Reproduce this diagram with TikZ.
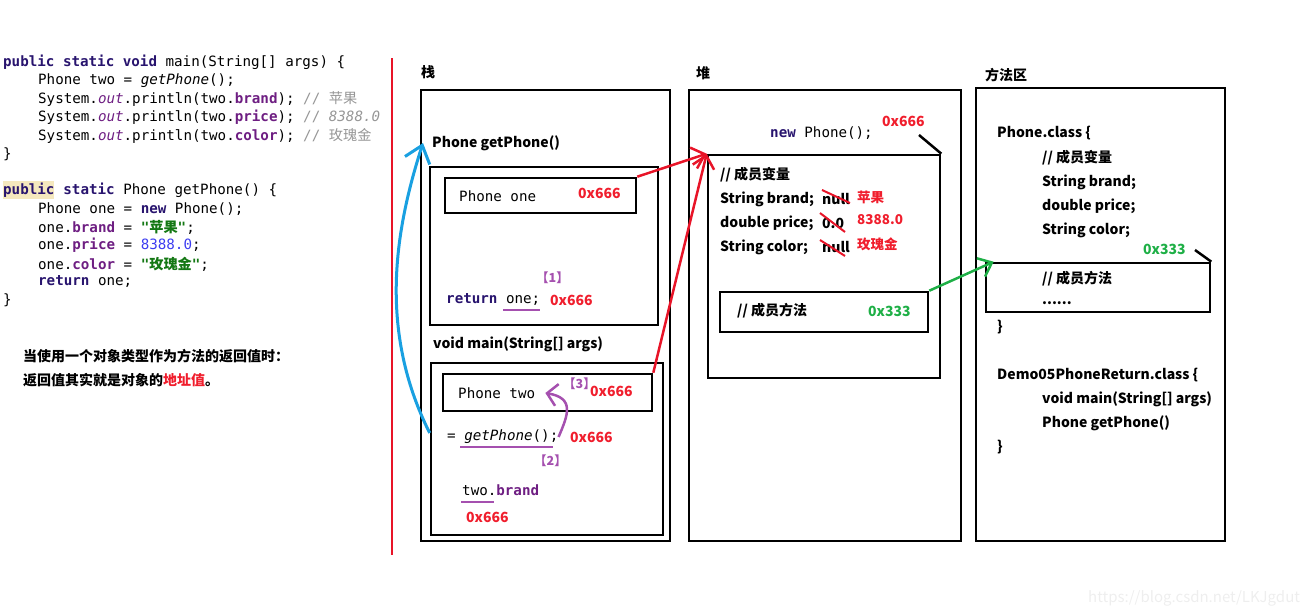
\documentclass[tikz,border=0pt]{standalone}
\usepackage{fontspec}
\setmainfont{Noto Sans CJK SC}
\setmonofont{DejaVu Sans Mono}
\newfontfamily\cjk{Noto Sans CJK SC}
\usetikzlibrary{arrows.meta,positioning}

\definecolor{kwcol}{RGB}{40,20,110}
\definecolor{fldcol}{RGB}{110,30,130}
\definecolor{strcol}{RGB}{20,120,20}
\definecolor{numcol}{RGB}{60,60,240}
\definecolor{cmcol}{RGB}{150,150,150}
\definecolor{hlcol}{RGB}{245,232,190}
\definecolor{addrred}{RGB}{240,30,45}
\definecolor{tagpurple}{RGB}{165,80,175}
\definecolor{okgreen}{RGB}{30,175,70}
\definecolor{callblue}{RGB}{25,160,225}
\definecolor{splitred}{RGB}{232,20,40}
\definecolor{wmgray}{RGB}{238,238,238}

\newcommand\codekw[1]{\textbf{\color{kwcol}#1}}
\newcommand\codefld[1]{\textbf{\color{fldcol}#1}}
\newcommand\codeout[1]{\textit{\color{fldcol}#1}}
\newcommand\codestr[1]{\textbf{\color{strcol}#1}}
\newcommand\codecm[1]{{\color{cmcol}#1}}

\begin{document}
\begin{tikzpicture}[x=1pt, y=-1pt,
  code/.style={font=\fontsize{14.2}{16}\selectfont\ttfamily, inner sep=0pt, anchor=west},
  lbl/.style={font=\fontsize{14}{16}\selectfont\bfseries, inner sep=0pt, anchor=west},
  addr/.style={font=\fontsize{14}{16}\selectfont\bfseries, text=addrred, inner sep=0pt, anchor=west},
  hexg/.style={font=\fontsize{14}{16}\selectfont\bfseries, text=okgreen, inner sep=0pt, anchor=west},
  tag/.style={font=\fontsize{12.5}{14}\selectfont\bfseries, text=tagpurple, inner sep=0pt, anchor=west},
  frame/.style={draw, line width=2.6pt, inner sep=0pt},
  uline/.style={tagpurple, line width=2.5pt},
  strike/.style={splitred, line width=2pt},
  redarrow/.style={splitred, line width=2.5pt, -{Straight Barb[length=12pt,width=22pt]}},
  callarrow/.style={callblue, line width=3pt, -{Straight Barb[length=16pt,width=26pt]}},
  methodarrow/.style={okgreen, line width=2.5pt, -{Straight Barb[length=12pt,width=20pt]}},
  backarrow/.style={tagpurple, line width=2.5pt, -{Straight Barb[length=10pt,width=22pt]}}]

  \useasboundingbox (0,0) rectangle (1302,616);

  % Source code
  \node[code] (c1) at (3,62) {\codekw{public static void} main(String[] args) \{};
  \node[code] (c2) at (38,81) {Phone two = \textit{getPhone}();};
  \node[code] (c3) at (38,99) {System.\codeout{out}.println(two.\codefld{brand}); \codecm{// {\cjk 苹果}}};
  \node[code] (c4) at (38,117) {System.\codeout{out}.println(two.\codefld{price}); \codecm{// \textit{8388.0}}};
  \node[code] (c5) at (38,136) {System.\codeout{out}.println(two.\codefld{color}); \codecm{// {\cjk 玫瑰金}}};
  \node[code] (c6) at (3,154) {\}};
  \node[code, fill=hlcol, inner ysep=2pt] (c7) at (3,190) {\codekw{public}};
  \node[code, anchor=base west] (c7b) at (c7.base east) {\ \codekw{static} Phone getPhone() \{};
  \node[code] (c8) at (38,209) {Phone one = \codekw{new} Phone();};
  \node[code] (c9) at (38,227) {one.\codefld{brand} = \codestr{"{\cjk 苹果}"};};
  \node[code] (c10) at (38,245) {one.\codefld{price} = {\color{numcol}8388.0};};
  \node[code] (c11) at (38,264) {one.\codefld{color} = \codestr{"{\cjk 玫瑰金}"};};
  \node[code] (c12) at (38,282) {\codekw{return} one;};
  \node[code] (c13) at (3,300) {\}};

  % Note
  \node[lbl] (n1) at (23,356) {当使用一个对象类型作为方法的返回值时：};
  \node[lbl] (n2) at (23,380) {返回值其实就是对象的{\color{addrred}地址值}。};

  % Separator
  \draw[splitred, line width=2pt] (392,58) -- (392,555);

  % Stack
  \node[lbl] (stackT) at (421,72) {栈};
  \node[frame, minimum width=249pt, minimum height=451pt] (stack) at (545.5,315.5) {};
  \node[lbl] (getL) at (432,143) {Phone getPhone()};
  \node[frame, minimum width=228pt, minimum height=158pt] (getF) at (544,246) {};
  \node[frame, minimum width=191pt, minimum height=35pt] (oneB) at (540.5,195.5) {};
  \node[code] (oneT) at (459,196) {Phone one};
  \node[addr] (oneA) at (578,193) {0x666};
  \node[tag] (t1) at (536,278) {【1】};
  \node[code] (retT) at (446,300) {\codekw{return} one;};
  \node[addr] (retA) at (550,300) {0x666};
  \draw[uline] (503,310) -- (540,310);

  \node[lbl] (mainL) at (433,344) {void main(String[] args)};
  \node[frame, minimum width=232pt, minimum height=172pt] (mainF) at (547,449) {};
  \node[frame, minimum width=209pt, minimum height=37pt] (twoB) at (547.5,392.5) {};
  \node[code] (twoT) at (458,393) {Phone two};
  \node[tag] (t3) at (563,384) {【3】};
  \node[addr] (twoA) at (590,391) {0x666};
  \node[code] (gpT) at (447,437) {= \textit{getPhone}();};
  \node[addr] (gpA) at (570,437) {0x666};
  \draw[uline] (460,447) -- (553,447);
  \node[tag] (t2) at (534,461) {【2】};
  \node[code] (brT) at (462,490) {two.\codefld{brand}};
  \draw[uline] (461,502) -- (494,502);
  \node[addr] (brA) at (466,517) {0x666};

  % Heap
  \node[lbl] (heapT) at (696,73) {堆};
  \node[frame, minimum width=272pt, minimum height=451pt] (heap) at (825,315.5) {};
  \node[code] (newT) at (770,133) {\codekw{new} Phone();};
  \node[addr] (newA) at (882,121) {0x666};
  \node[frame, minimum width=232pt, minimum height=223pt] (obj) at (824,266.5) {};
  \node[lbl] (v0) at (720,175) {// 成员变量};
  \node[lbl] (v1) at (720,199) {String brand;};
  \node[lbl] (v2) at (720,223) {double price;};
  \node[lbl] (v3) at (720,247) {String color;};
  \node[lbl] (d1) at (822,199) {null};
  \node[lbl] (d2) at (822,223) {0.0};
  \node[lbl] (d3) at (822,247) {null};
  \draw[strike] (822,190) -- (850,203);
  \draw[strike] (820,213) -- (845,232);
  \draw[strike] (820,240) -- (845,256);
  \node[addr, font=\fontsize{13.5}{15}\selectfont\bfseries] (s1) at (857,197) {苹果};
  \node[addr, font=\fontsize{13.5}{15}\selectfont\bfseries] (s2) at (857,220) {8388.0};
  \node[addr, font=\fontsize{13.5}{15}\selectfont\bfseries] (s3) at (857,244) {玫瑰金};
  \node[frame, minimum width=208pt, minimum height=40pt] (methB) at (824,312) {};
  \node[lbl] (methT) at (737,311) {// 成员方法};
  \node[hexg] (methA) at (868,311) {0x333};
  \coordinate (tick1) at (919,135);
  \draw[line width=2.5pt] (tick1) -- (obj.north east);

  % Method area
  \node[lbl] (areaT) at (985,75) {方法区};
  \node[frame, minimum width=249pt, minimum height=453pt] (area) at (1100.5,314.5) {};
  \node[lbl] (p0) at (997,133) {Phone.class \{};
  \node[lbl] (p1) at (1042,158) {// 成员变量};
  \node[lbl] (p2) at (1042,182) {String brand;};
  \node[lbl] (p3) at (1042,206) {double price;};
  \node[lbl] (p4) at (1042,230) {String color;};
  \node[hexg] (pA) at (1143,249) {0x333};
  \node[frame, minimum width=224pt, minimum height=49pt] (areaM) at (1098,287.5) {};
  \node[lbl] (p5) at (1042,279) {// 成员方法};
  \node[lbl] (p6) at (1042,303) {......};
  \node[lbl] (p7) at (997,327) {\}};
  \coordinate (tick2) at (1195,250);
  \draw[line width=2.5pt] (tick2) -- (areaM.north east);
  \node[lbl] (q0) at (997,375) {Demo05PhoneReturn.class \{};
  \node[lbl] (q1) at (1042,399) {void main(String[] args)};
  \node[lbl] (q2) at (1042,423) {Phone getPhone()};
  \node[lbl] (q3) at (997,447) {\}};

  % Arrows
  \draw[callarrow] ([yshift=16pt]mainF.west) .. controls (378,330) and (395,230) .. ([xshift=-9pt]getL.west);
  \draw[redarrow] (oneB.north east) -- (obj.north west);
  \draw[redarrow] (twoB.north east) -- (obj.north west);
  \draw[methodarrow] (methB.north east) -- ([xshift=9pt]areaM.north west);
  \draw[backarrow] (gpT.east) .. controls (568,415) and (575,398) .. ([xshift=10pt]twoT.east);

  % Watermark
  \node[font=\fontsize{15}{17}\selectfont, text=wmgray, inner sep=0pt, anchor=west] (wm) at (1088,598) {https://blog.csdn.net/LKJgdut};

\end{tikzpicture}
\end{document}
